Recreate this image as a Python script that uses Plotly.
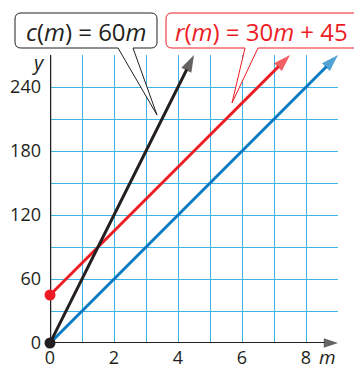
import plotly.graph_objects as go

# values
m_ticks = [0, 1, 2, 3, 4, 5, 6, 7, 8, 9]
m_ticktext = ["0", "", "2", "", "4", "", "6", "", "8", ""]
y_ticks = [0, 30, 60, 90, 120, 150, 180, 210, 240, 270]
y_ticktext = ["0", "", "60", "", "120", "", "180", "", "240", ""]

# c(m) = 60m
c_m = [0, 4.5]
c_y = [0, 270]
# r(m) = 30m + 45
r_m = [0, 7.5]
r_y = [45, 270]
# unlabelled blue line
b_m = [0, 9]
b_y = [0, 270]

# axis arrows
x_axis_m = [0, 9]
x_axis_y = [0, 0]
y_axis_m = [0, 0]
y_axis_y = [0, 271]

BLACK = "#231f20"
RED = "#ed1c24"
BLUE = "#0a7bc2"
GRID = "#3cb4e5"
FONT = "Open Sans, sans-serif"

# the page body adds an 8px margin, so the figure is drawn 8px smaller/shifted
OFF = 8
FIG_W, FIG_H = 362 - OFF, 369 - OFF
# plot area in window pixels: x 50..338, y 55..343 (288 px both ways)
L, T, W, H = 50, 55, 288, 288


def px(x):
    return (x - L) / W


def py(y):
    return (T + H - y) / H


def callout(x0, x1, y0, y1, base_a, base_b, tip, r=6):
    """rounded box with a pointer going down from the bottom edge (paper coords)"""
    X0, X1, Y0, Y1 = px(x0), px(x1), py(y0), py(y1)
    rr = r / W
    pa, pb = px(base_a), px(base_b)
    tx, ty = px(tip[0]), py(tip[1])
    p = f"M{X0 + rr},{Y0} L{X1 - rr},{Y0} Q{X1},{Y0} {X1},{Y0 - rr} "
    p += f"L{X1},{Y1 + rr} Q{X1},{Y1} {X1 - rr},{Y1} "
    p += f"L{pb},{Y1} L{tx},{ty} L{pa},{Y1} "
    p += f"L{X0 + rr},{Y1} Q{X0},{Y1} {X0},{Y1 + rr} "
    p += f"L{X0},{Y0 - rr} Q{X0},{Y0} {X0 + rr},{Y0} Z"
    return p


def arrow_line(xs, ys, color, width, head=18):
    return go.Scatter(
        x=xs, y=ys, mode="lines+markers",
        line=dict(color=color, width=width),
        marker=dict(symbol="arrow", size=[0, head], color=color,
                    angleref="previous", line=dict(width=0)),
        cliponaxis=False, hoverinfo="skip", showlegend=False,
    )


def start_dot(x, y, color):
    return go.Scatter(
        x=[x], y=[y], mode="markers",
        marker=dict(symbol="circle", size=11, color=color, line=dict(width=0)),
        cliponaxis=False, hoverinfo="skip", showlegend=False,
    )


def label(x, y, text, size, color, xanchor="center"):
    fig.add_annotation(xref="paper", yref="paper", x=px(x), y=py(y),
                       xanchor=xanchor, yanchor="middle", text=text,
                       showarrow=False,
                       font=dict(size=size, color=color, family=FONT))


fig = go.Figure()
fig.add_trace(arrow_line(x_axis_m, x_axis_y, BLACK, 2, head=15))
fig.add_trace(arrow_line(y_axis_m, y_axis_y, BLACK, 2.5, head=15))
fig.add_trace(arrow_line(b_m, b_y, BLUE, 3))
fig.add_trace(arrow_line(r_m, r_y, RED, 3))
fig.add_trace(arrow_line(c_m, c_y, BLACK, 3))
fig.add_trace(start_dot(r_m[0], r_y[0], RED))
fig.add_trace(start_dot(c_m[0], c_y[0], BLACK))

fig.update_xaxes(
    range=[0, 9], tickvals=m_ticks, ticktext=m_ticktext,
    showgrid=True, gridcolor=GRID, gridwidth=1.3,
    zeroline=False, showline=False, ticks="", ticklabelstandoff=2,
    tickfont=dict(size=18, color=BLACK, family=FONT), automargin=False,
)
fig.update_yaxes(
    range=[0, 270], tickvals=y_ticks, ticktext=y_ticktext,
    showgrid=True, gridcolor=GRID, gridwidth=1.3,
    zeroline=False, showline=False, ticks="", ticklabelstandoff=8,
    tickfont=dict(size=18, color=BLACK, family=FONT), automargin=False,
)

fig.add_shape(type="path", xref="paper", yref="paper",
              path=callout(15, 157, 13, 48, 118, 133, (157, 115)),
              line=dict(color=BLACK, width=1), fillcolor="white", layer="above")
fig.add_shape(type="path", xref="paper", yref="paper",
              path=callout(166, 380, 13, 48, 245, 258, (232, 103)),
              line=dict(color=RED, width=1), fillcolor="white", layer="above")

label(86, 31, "<i>c</i>(<i>m</i>) = 60<i>m</i>", 24, BLACK)
label(173, 31, "<i>r</i>(<i>m</i>) = 30<i>m</i> + 45", 24, RED, xanchor="left")
label(38, 62, "<i>y</i>", 20, BLACK)
label(327, 357, "<i>m</i>", 19, BLACK)

fig.update_layout(
    width=FIG_W, height=FIG_H,
    margin=dict(l=L - OFF, r=FIG_W - (L - OFF) - W, t=T - OFF,
                b=FIG_H - (T - OFF) - H, autoexpand=False),
    paper_bgcolor="white", plot_bgcolor="white",
    font=dict(family=FONT),
)

fig.write_html("out.html")
